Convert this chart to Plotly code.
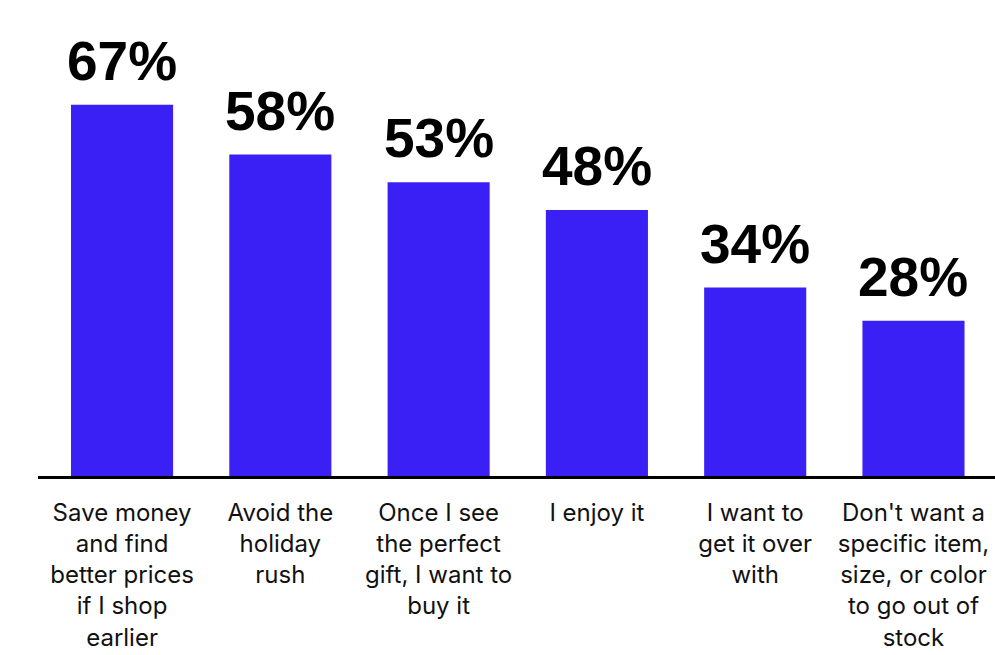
import plotly.graph_objects as go

categories = [
    "Save money<br>and find<br>better prices<br>if I shop<br>earlier",
    "Avoid the<br>holiday<br>rush",
    "Once I see<br>the perfect<br>gift, I want to<br>buy it",
    "I enjoy it",
    "I want to<br>get it over<br>with",
    "Don't want a<br>specific item,<br>size, or color<br>to go out of<br>stock",
]
values = [67, 58, 53, 48, 34, 28]
value_labels = ["67%", "58%", "53%", "48%", "34%", "28%"]

x = list(range(len(categories)))
fig = go.Figure()
fig.add_trace(go.Bar(x=x, y=values, marker=dict(color="#3b20f5", line=dict(width=0)),
                     width=0.645, hoverinfo="skip"))

for xi, v, lab in zip(x, values, value_labels):
    fig.add_annotation(x=xi, y=v, text=f"<b>{lab}</b>", showarrow=False,
                       yanchor="bottom", yshift=11,
                       font=dict(family="Liberation Sans Narrow, Arial Narrow, Liberation Sans, sans-serif",
                                 size=55, color="#000000"))

fig.update_layout(
    width=995, height=655,
    margin=dict(l=38, r=0, t=0, b=179),
    paper_bgcolor="#ffffff", plot_bgcolor="#ffffff",
    showlegend=False,
    xaxis=dict(range=[-0.531, 5.515], tickmode="array", tickvals=x, ticktext=categories,
               showline=True, linecolor="#000000", linewidth=3, showgrid=False,
               zeroline=False, ticks="", ticklabelstandoff=13,
               tickfont=dict(family="Inter, Arial, sans-serif", size=24, color="#111111")),
    yaxis=dict(range=[0, 85.9], visible=False, showgrid=False, zeroline=False),
)

fig.write_html("out.html")
